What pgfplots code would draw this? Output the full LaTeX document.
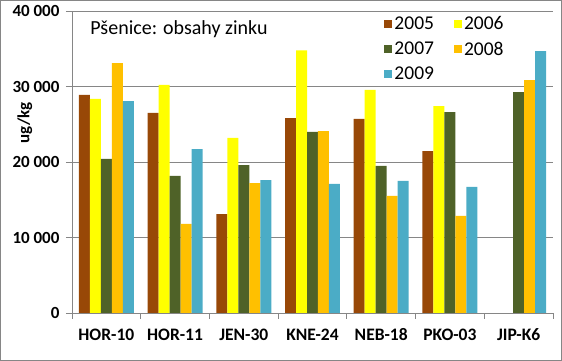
\documentclass[border=0pt]{standalone}
\usepackage{fontspec}
\setmainfont{Carlito}
\usepackage{pgfplots}
\pgfplotsset{compat=1.18}
\definecolor{cA}{HTML}{984807}
\definecolor{cB}{HTML}{FFFF00}
\definecolor{cC}{HTML}{4F6228}
\definecolor{cD}{HTML}{FFC000}
\definecolor{cE}{HTML}{4BACC6}
\definecolor{gridc}{HTML}{868686}
\begin{document}
\begin{tikzpicture}
\useasboundingbox (0,0) rectangle (562pt,361pt);
\draw[gridc, line width=1pt] (0.5pt,0.5pt) rectangle (561.5pt,360.5pt);
\begin{axis}[
  at={(72pt,48pt)}, anchor=south west,
  scale only axis, width=481pt, height=302pt,
  xmin=-0.5, xmax=6.5, ymin=0, ymax=40000,
  ybar=0pt, bar width=0.16,
  axis x line*=bottom, axis y line*=left,
  axis line style={gridc, line width=0.8pt, -},
  xtick={0,...,6},
  xticklabels={HOR-10,HOR-11,JEN-30,KNE-24,NEB-18,PKO-03,JIP-K6},
  major x tick style={draw=none},
  minor xtick={-0.5,0.5,...,6.5},
  minor x tick style={gridc, line width=0.8pt},
  minor tick length=6pt,
  ytick={0,10000,...,40000},
  major tick length=6pt,
  tick align=outside,
  y tick style={gridc, line width=0.8pt},
  ymajorgrids, grid style={gridc, line width=0.8pt},
  scaled y ticks=false,
  /pgf/number format/.cd, fixed, 1000 sep={\ }, assume math mode=true,
  /pgfplots/.cd,
  xticklabel style={font=\bfseries\fontsize{17.5}{20}\selectfont, yshift=-6pt},
  yticklabel style={font=\bfseries\fontsize{17}{20}\selectfont, xshift=-3pt},
  ylabel={ug/kg},
  ylabel style={font=\bfseries\fontsize{17}{19}\selectfont, at={(axis description cs:-0.098,0.63)}, anchor=center},
  legend columns=2,
  legend style={draw=none, fill=none, at={(0.643,0.995)}, anchor=north west,
    font=\fontsize{19.5}{22}\selectfont,
    /tikz/every even column/.append style={column sep=18pt},
    row sep=6.5pt},
  legend image code/.code={\fill[#1] (0pt,-4pt) rectangle (8pt,4pt);},
]
\addplot[fill=cA, draw=none] coordinates {(0,28900) (1,26500) (2,13100) (3,25800) (4,25700) (5,21450)};
\addplot[fill=cB, draw=none] coordinates {(0,28350) (1,30200) (2,23200) (3,34800) (4,29550) (5,27400)};
\addplot[fill=cC, draw=none] coordinates {(0,20400) (1,18150) (2,19600) (3,24000) (4,19500) (5,26600) (6,29270)};
\addplot[fill=cD, draw=none] coordinates {(0,33100) (1,11800) (2,17200) (3,24100) (4,15500) (5,12850) (6,30850)};
\addplot[fill=cE, draw=none] coordinates {(0,28050) (1,21700) (2,17600) (3,17100) (4,17500) (5,16700) (6,34700)};
\legend{2005,2006,2007,2008,2009}
\node[anchor=west, font=\fontsize{20}{22}\selectfont] at (rel axis cs:0.031,0.94) {Pšenice: obsahy zinku};
\end{axis}
\end{tikzpicture}
\end{document}
